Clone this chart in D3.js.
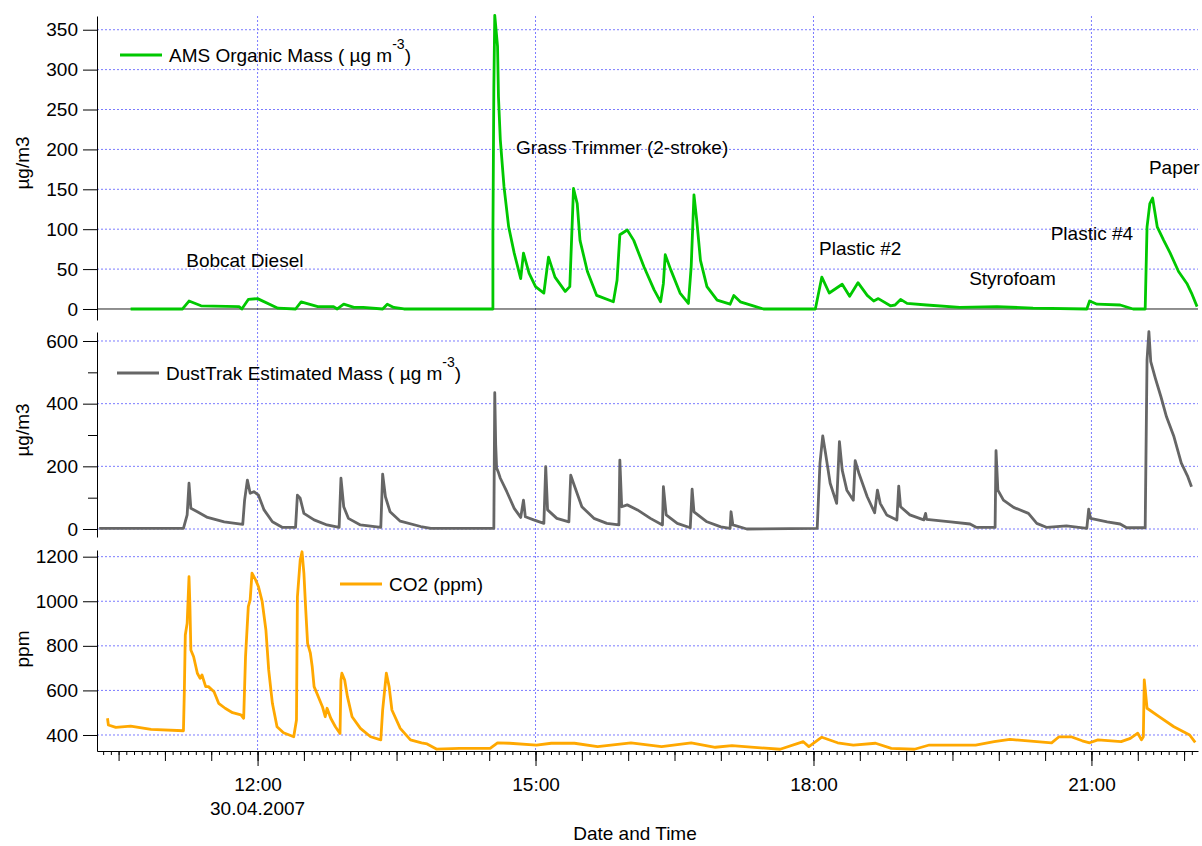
<!DOCTYPE html>
<html>
<head>
<meta charset="utf-8">
<script src="https://cdn.jsdelivr.net/npm/d3@7"></script>
<style>
  body { margin: 0; background: #fff; }
  text { font-family: "Liberation Sans", Arial, sans-serif; fill: #000; }
</style>
</head>
<body>
<script>
// time in decimal hours on 30.04.2007, value
const amsOrganic = [[10.63,0],[11.19,0],[11.26,10],[11.39,4],[11.80,3],[11.83,0],[11.90,12],[12.00,13],[12.22,1],[12.41,0],[12.47,9],[12.65,3],[12.82,3],[12.86,0],[12.93,6],[13.04,2],[13.14,2],[13.35,0],[13.40,6],[13.47,2],[13.58,0],[14.54,0],[14.54,92],[14.55,276],[14.56,368],[14.59,329],[14.60,266],[14.62,212],[14.66,153],[14.71,103],[14.77,70],[14.84,38],[14.87,70],[14.93,45],[15.00,28],[15.09,20],[15.14,65],[15.21,40],[15.32,22],[15.37,28],[15.41,151],[15.45,132],[15.48,86],[15.56,47],[15.66,17],[15.84,9],[15.88,36],[15.91,93],[15.99,99],[16.06,86],[16.17,53],[16.28,24],[16.35,9],[16.38,32],[16.40,68],[16.46,49],[16.56,20],[16.65,7],[16.68,53],[16.71,143],[16.74,111],[16.78,61],[16.85,28],[16.96,11],[17.10,6],[17.14,17],[17.21,9],[17.35,4],[17.46,0],[18.02,0],[18.09,40],[18.17,20],[18.31,31],[18.39,16],[18.48,33],[18.58,17],[18.65,10],[18.70,13],[18.83,4],[18.88,5],[18.94,12],[19.01,7],[19.22,5],[19.58,2],[19.98,3],[20.37,1],[20.95,0],[20.98,10],[21.06,6],[21.31,5],[21.45,0],[21.58,0],[21.60,103],[21.63,132],[21.66,139],[21.71,103],[21.78,86],[21.85,70],[21.94,47],[22.03,32],[22.08,20],[22.14,3]];

const dustTrak = [[10.29,2],[11.20,2],[11.24,45],[11.26,146],[11.28,66],[11.35,55],[11.46,37],[11.64,23],[11.84,15],[11.86,92],[11.89,156],[11.92,114],[11.96,119],[12.01,108],[12.07,61],[12.16,23],[12.27,5],[12.41,5],[12.43,108],[12.46,98],[12.50,50],[12.61,29],[12.75,13],[12.88,5],[12.90,162],[12.93,71],[12.98,34],[13.11,13],[13.33,5],[13.35,175],[13.38,103],[13.43,55],[13.54,25],[13.76,8],[13.87,2],[14.55,2],[14.56,435],[14.57,270],[14.58,195],[14.60,180],[14.62,162],[14.69,119],[14.77,66],[14.84,37],[14.87,92],[14.89,39],[14.98,29],[15.09,18],[15.11,199],[15.13,61],[15.23,34],[15.36,23],[15.38,172],[15.41,146],[15.50,71],[15.63,34],[15.77,18],[15.90,13],[15.91,220],[15.93,71],[15.99,77],[16.10,61],[16.24,34],[16.37,13],[16.38,135],[16.41,45],[16.53,18],[16.67,4],[16.69,127],[16.71,55],[16.85,23],[17.00,7],[17.10,2],[17.11,55],[17.13,13],[17.28,0],[18.04,2],[18.07,210],[18.10,297],[18.13,242],[18.18,146],[18.25,82],[18.28,279],[18.31,188],[18.36,124],[18.43,92],[18.45,218],[18.49,178],[18.58,103],[18.66,52],[18.69,124],[18.72,82],[18.79,45],[18.90,29],[18.92,137],[18.94,71],[19.04,45],[19.19,29],[19.21,50],[19.22,31],[19.48,23],[19.69,16],[19.76,5],[19.96,5],[19.97,250],[19.99,124],[20.05,92],[20.16,69],[20.32,50],[20.41,18],[20.52,5],[20.73,10],[20.95,2],[20.97,63],[20.99,34],[21.17,23],[21.31,16],[21.38,4],[21.58,4],[21.60,540],[21.62,630],[21.64,534],[21.69,481],[21.75,422],[21.81,358],[21.89,295],[21.97,210],[22.04,167],[22.08,135]];

const co2 = [[10.38,475],[10.39,445],[10.47,434],[10.63,440],[10.85,425],[11.20,419],[11.21,602],[11.22,849],[11.24,901],[11.26,1110],[11.27,976],[11.28,781],[11.31,751],[11.35,677],[11.38,654],[11.40,669],[11.44,617],[11.47,617],[11.53,594],[11.58,542],[11.65,520],[11.73,500],[11.82,490],[11.85,475],[11.87,751],[11.90,976],[11.92,1006],[11.94,1126],[11.98,1095],[12.01,1065],[12.05,998],[12.09,871],[12.12,692],[12.16,542],[12.21,437],[12.28,410],[12.39,392],[12.42,467],[12.43,1020],[12.46,1185],[12.48,1222],[12.50,1126],[12.52,961],[12.54,811],[12.57,767],[12.59,706],[12.61,617],[12.64,587],[12.70,527],[12.73,482],[12.75,520],[12.79,475],[12.84,437],[12.89,407],[12.90,647],[12.91,677],[12.94,647],[12.97,572],[13.02,482],[13.11,430],[13.22,392],[13.33,378],[13.35,512],[13.39,677],[13.42,617],[13.45,512],[13.54,430],[13.65,378],[13.77,365],[13.83,360],[13.93,337],[14.18,340],[14.51,340],[14.59,365],[14.72,363],[15.01,355],[15.17,363],[15.42,363],[15.67,348],[16.03,365],[16.36,348],[16.68,365],[16.94,345],[17.12,352],[17.64,336],[17.89,370],[17.95,348],[18.09,390],[18.26,365],[18.43,355],[18.67,363],[18.84,340],[19.09,336],[19.25,355],[19.75,355],[19.95,370],[20.12,380],[20.57,365],[20.65,392],[20.78,392],[20.90,374],[20.98,365],[21.07,378],[21.32,370],[21.42,385],[21.50,408],[21.54,378],[21.56,392],[21.57,647],[21.60,520],[21.73,482],[21.89,437],[22.06,400],[22.12,367]];

const amsTicks = [0, 50, 100, 150, 200, 250, 300, 350];
const dustTicks = [0, 200, 400, 600];
const dustMinorTicks = [100, 300, 500];
const co2Ticks = [400, 600, 800, 1000, 1200];

// event name, time (h), AMS value where the label sits
const events = [
  ['Bobcat Diesel', 11.23, 53],
  ['Grass Trimmer (2-stroke)', 14.79, 194],
  ['Plastic #2', 18.06, 68],
  ['Styrofoam', 19.68, 30],
  ['Plastic #4', 20.56, 86],
  ['Paper', 21.62, 169]
];

const day = new Date(2007, 3, 30);
const toDate = h => new Date(day.getTime() + h * 3600e3);

const svg = d3.select('body').append('svg')
  .attr('width', 1202)
  .attr('height', 846);

const x = d3.scaleTime()
  .domain([toDate(10.267), toDate(22.15)])
  .range([97, 1198]);

const gridColor = '#7b7bff';

const panels = [
  { data: amsOrganic, color: '#00c800', ticks: amsTicks, minor: [], title: 'µg/m3', titleY: 163,
    y: d3.scaleLinear().domain([-13.8, 367.2]).range([320, 16]) },
  { data: dustTrak, color: '#666666', ticks: dustTicks, minor: dustMinorTicks, title: 'µg/m3', titleY: 430,
    y: d3.scaleLinear().domain([-25.5, 628.7]).range([537, 332]) },
  { data: co2, color: '#ffa800', ticks: co2Ticks, minor: [], title: 'ppm', titleY: 649,
    y: d3.scaleLinear().domain([328.2, 1230]).range([751, 550]) }
];

// vertical grid lines every 3 hours
svg.append('g').selectAll('line')
  .data(x.ticks(d3.timeHour.every(3)))
  .enter().append('line')
  .attr('x1', d => x(d)).attr('x2', d => x(d))
  .attr('y1', 16).attr('y2', 751)
  .attr('stroke', gridColor)
  .attr('stroke-dasharray', '2,2');

panels.forEach((p, i) => {
  // horizontal grid (top panel gets a solid zero line instead)
  svg.append('g').selectAll('line')
    .data(p.ticks.filter(t => !(i === 0 && t === 0)))
    .enter().append('line')
    .attr('x1', 97).attr('x2', 1198)
    .attr('y1', d => p.y(d)).attr('y2', d => p.y(d))
    .attr('stroke', gridColor)
    .attr('stroke-dasharray', '2,2');

  if (i === 0) {
    svg.append('line')
      .attr('x1', 97).attr('x2', 1198)
      .attr('y1', p.y(0)).attr('y2', p.y(0))
      .attr('stroke', '#222');
  }

  const line = d3.line()
    .x(d => x(toDate(d[0])))
    .y(d => p.y(d[1]));

  svg.append('path')
    .datum(p.data)
    .attr('d', line)
    .attr('fill', 'none')
    .attr('stroke', p.color)
    .attr('stroke-width', 2.8)
    .attr('stroke-linejoin', 'round');

  // y axis
  const yAxis = svg.append('g')
    .attr('transform', 'translate(97,0)')
    .call(d3.axisLeft(p.y).tickValues(p.ticks).tickSize(14).tickSizeOuter(0).tickPadding(5)
      .tickFormat(d3.format('d')));
  yAxis.selectAll('text').style('font-size', '19px');
  yAxis.select('.domain').attr('stroke', '#000');

  if (p.minor.length) {
    svg.append('g')
      .attr('transform', 'translate(97,0)')
      .call(d3.axisLeft(p.y).tickValues(p.minor).tickSize(9).tickFormat(''))
      .select('.domain').remove();
  }

  svg.append('text')
    .attr('transform', `translate(29,${p.titleY}) rotate(-90)`)
    .attr('text-anchor', 'middle')
    .style('font-size', '19px')
    .text(p.title);
});

// bottom time axis: 5 min, 30 min and 3 h ticks
const xAxisG = svg.append('g').attr('transform', 'translate(0,751)');
xAxisG.append('g')
  .call(d3.axisBottom(x).ticks(d3.timeMinute.every(5)).tickSize(4).tickSizeOuter(0).tickFormat(''));
xAxisG.append('g')
  .call(d3.axisBottom(x).ticks(d3.timeMinute.every(30)).tickSize(10).tickSizeOuter(0).tickFormat(''))
  .select('.domain').remove();
const majorAxis = xAxisG.append('g')
  .call(d3.axisBottom(x).ticks(d3.timeHour.every(3)).tickSize(15).tickSizeOuter(0).tickPadding(12)
    .tickFormat(d3.timeFormat('%H:%M')));
majorAxis.select('.domain').remove();
majorAxis.selectAll('text').style('font-size', '19px');
xAxisG.selectAll('.domain').attr('stroke', '#000');

svg.append('text')
  .attr('x', x(toDate(12)))
  .attr('y', 815)
  .attr('text-anchor', 'middle')
  .style('font-size', '19px')
  .text(d3.timeFormat('%d.%m.%Y')(day));

svg.append('text')
  .attr('x', 635)
  .attr('y', 840)
  .attr('text-anchor', 'middle')
  .style('font-size', '19px')
  .text('Date and Time');

// event annotations
svg.append('g').selectAll('text')
  .data(events)
  .enter().append('text')
  .attr('x', d => x(toDate(d[1])))
  .attr('y', d => panels[0].y(d[2]))
  .style('font-size', '19px')
  .text(d => d[0]);

// legends
function legend(x1, ly, color, label, sup) {
  svg.append('line')
    .attr('x1', x1).attr('x2', x1 + 42)
    .attr('y1', ly).attr('y2', ly)
    .attr('stroke', color)
    .attr('stroke-width', 3);
  const t = svg.append('text')
    .attr('x', x1 + 49)
    .attr('y', ly + 7)
    .style('font-size', '19px')
    .text(label);
  if (sup) {
    t.append('tspan').attr('dy', -13).style('font-size', '14px').text(sup);
    t.append('tspan').attr('dy', 13).text(')');
  }
}
legend(120, 55, '#00c800', 'AMS Organic Mass ( µg m', '-3');
legend(117, 373, '#666666', 'DustTrak Estimated Mass ( µg m', '-3');
legend(340, 584, '#ffa800', 'CO2 (ppm)');
</script>
</body>
</html>
